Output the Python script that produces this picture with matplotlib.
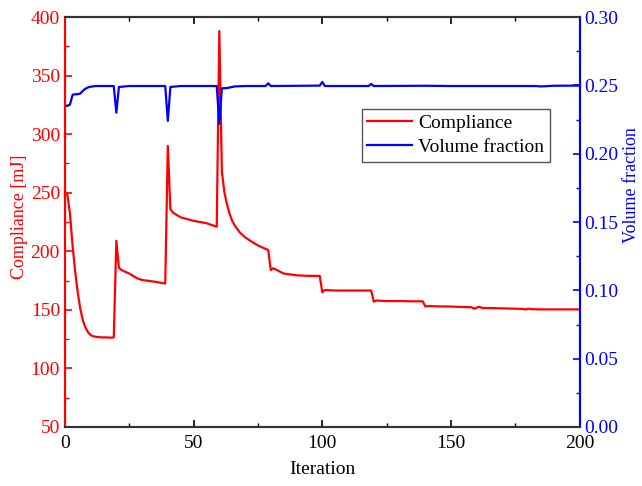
import matplotlib
matplotlib.use('Agg')
import matplotlib.pyplot as plt
from matplotlib.ticker import MultipleLocator, FormatStrFormatter

# ---- data ----
comp_iter = [0, 1, 2, 3, 4, 5, 6, 7, 8, 9, 10, 11, 12, 14, 16, 18, 19, 20, 21, 22, 25, 28, 30, 35, 39,
             40, 41, 42, 45, 50, 55, 59, 60, 61, 62, 63, 64, 65, 66, 68, 70, 72, 75, 79, 80, 81, 85,
             90, 95, 99, 100, 101, 105, 110, 115, 119, 120, 121, 125, 130, 135, 139, 140, 141, 150,
             158, 159, 161, 162, 165, 170, 178, 179, 180, 181, 185, 190, 200]
compliance = [251, 248, 232, 205, 183, 165, 151, 141, 135, 131, 128.5, 127.5, 127, 126.5, 126.5, 126.3,
              126.5, 209, 186, 184, 181, 177, 175.5, 174, 172.5,
              290, 236, 233, 229, 226, 224, 221, 388, 268, 250, 240, 232, 226, 222, 216, 212, 209, 205,
              201, 184, 185.5, 181, 179.5, 179, 179, 165, 167, 166.5, 166.5, 166.5, 166.5, 157, 158,
              157.5, 157.5, 157.3, 157.3, 153, 153.2, 152.8, 152.2, 151, 152.7, 151.6, 151.5, 151.3,
              150.8, 150.3, 151, 150.6, 150.4, 150.4, 150.4]

vol_iter = [0, 1, 2, 3, 4, 5, 6, 7, 8, 9, 10, 12, 19, 20, 21, 25, 39, 40, 41, 45, 59, 60, 61, 63, 66,
            70, 78, 79, 80, 99, 100, 101, 118, 119, 120, 140, 150, 160, 183, 185, 190, 200]
vol_frac = [0.235, 0.235, 0.236, 0.243, 0.2435, 0.2435, 0.244, 0.246, 0.2475, 0.2485, 0.249, 0.2495,
            0.2495, 0.230, 0.2488, 0.2495, 0.2495, 0.224, 0.2488, 0.2495, 0.2495, 0.2217, 0.2478,
            0.248, 0.2492, 0.2495, 0.2495, 0.2515, 0.2495, 0.2498, 0.2525, 0.2495, 0.2495, 0.251,
            0.2495, 0.2497, 0.2495, 0.2495, 0.2495, 0.2492, 0.2497, 0.2498]

x_label = "Iteration"
y_label_left = "Compliance [mJ]"
y_label_right = "Volume fraction"
labels = ["Compliance", "Volume fraction"]

plt.rcParams['font.family'] = ['Liberation Serif', 'DejaVu Serif']

RED = '#ff0000'
BLUE = '#0000ff'
FS = 14

fig = plt.figure(figsize=(6.42, 4.86), dpi=100)
ax = fig.add_axes([0.101, 0.1214, 0.802, 0.8436])
ax2 = ax.twinx()

l1, = ax.plot(comp_iter, compliance, color=RED, lw=1.6, label=labels[0])
l2, = ax2.plot(vol_iter, vol_frac, color=BLUE, lw=1.6, label=labels[1])

ax.set_xlim(0, 200)
ax.set_ylim(50, 400)
ax2.set_ylim(0, 0.30)

ax.xaxis.set_major_locator(MultipleLocator(50))
ax.xaxis.set_minor_locator(MultipleLocator(25))
ax.yaxis.set_major_locator(MultipleLocator(50))
ax.yaxis.set_minor_locator(MultipleLocator(25))
ax2.yaxis.set_major_locator(MultipleLocator(0.05))
ax2.yaxis.set_minor_locator(MultipleLocator(0.025))
ax2.yaxis.set_major_formatter(FormatStrFormatter('%.2f'))

ax.tick_params(axis='x', which='both', direction='in', top=True, bottom=True,
               labelsize=FS, colors='black', pad=5.5)
ax.tick_params(axis='x', which='major', length=5, width=1.2)
ax.tick_params(axis='x', which='minor', length=3, width=1.0)
ax.tick_params(axis='y', which='both', direction='in', colors=RED, labelsize=FS)
ax.tick_params(axis='y', which='major', length=5, width=1.2)
ax.tick_params(axis='y', which='minor', length=3, width=1.0)
ax2.tick_params(axis='y', which='both', direction='in', colors=BLUE, labelsize=FS)
ax2.tick_params(axis='y', which='major', length=5, width=1.2)
ax2.tick_params(axis='y', which='minor', length=3, width=1.0)

for a in (ax, ax2):
    a.spines['top'].set_color('#333333')
    a.spines['bottom'].set_color('#333333')
    a.spines['left'].set_color(RED)
    a.spines['right'].set_color(BLUE)
    for s in a.spines.values():
        s.set_linewidth(1.5)

ax.set_xlabel(x_label, fontsize=FS, labelpad=7)
ax.set_ylabel(y_label_left, fontsize=13, color=RED)
ax.yaxis.set_label_coords(-0.072, 0.512)
ax2.set_ylabel(y_label_right, fontsize=13, color=BLUE)
ax2.yaxis.set_label_coords(1.084, 0.590)

leg = ax2.legend([l1, l2], labels, loc='upper right', bbox_to_anchor=(0.942, 0.776),
                 fontsize=FS, frameon=True, fancybox=False, framealpha=1,
                 edgecolor='#555555', handlelength=2.3, handletextpad=0.3,
                 borderpad=0.3, labelspacing=0.3, borderaxespad=0)
leg.get_frame().set_linewidth(1.0)

fig.savefig('out.png', dpi=100)
